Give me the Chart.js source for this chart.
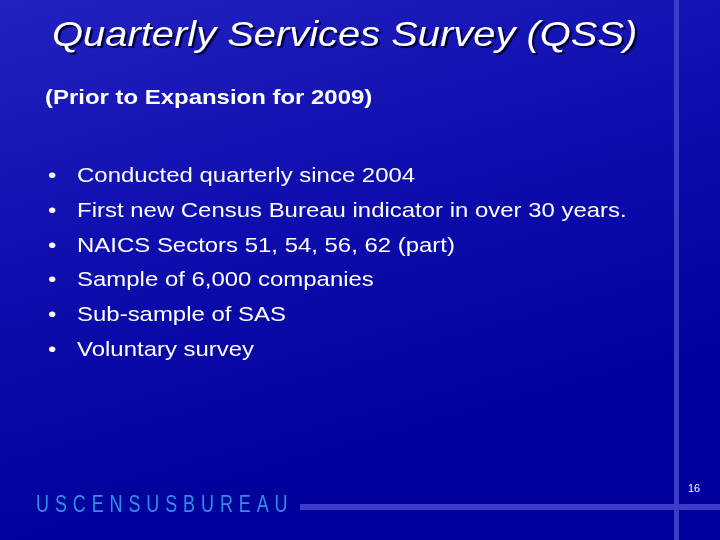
<!DOCTYPE html>
<html>
<head>
<meta charset="utf-8">
<script src="https://cdn.jsdelivr.net/npm/chart.js@4"></script>
<style>
  html, body { margin: 0; padding: 0; }
  body { width: 720px; height: 540px; position: relative; overflow: hidden; font-family: "Liberation Sans", Arial, sans-serif; color: #fff; }
  #slide { position: absolute; left: 0; top: 0; }
  .wide { transform: scaleX(1.14); transform-origin: left top; }
  .title { position: absolute; left: 52px; top: 14px; font-size: 35px; font-style: italic; text-shadow: 2px 2px 1px #000040; white-space: nowrap; }
  .sub { position: absolute; left: 45px; top: 85px; font-size: 21px; font-weight: bold; white-space: nowrap; }
  ul { position: absolute; left: 48px; top: 160px; margin: 0; padding: 0; list-style: none; font-size: 21px; white-space: nowrap; }
  li { height: 34.8px; line-height: 30px; }
  li span { display: inline-block; width: 25.5px; }
  .logo { position: absolute; left: 36px; top: 491px; font-family: "Liberation Sans", sans-serif; font-size: 23px; letter-spacing: 7.6px; color: #2f8fe8; transform: scaleX(0.78); transform-origin: left top; white-space: nowrap; }
  .page { position: absolute; left: 688px; top: 482px; font-size: 11px; }
</style>
</head>
<body>
<canvas id="slide" width="720" height="540"></canvas>
<div class="title wide" id="title"></div>
<div class="sub wide" id="sub"></div>
<ul id="bullets" class="wide"></ul>
<div class="logo" id="logo"></div>
<div class="page" id="page"></div>
<script>
// ========= Content =========
const titleText = "Quarterly Services Survey (QSS)";
const subtitleText = "(Prior to Expansion for 2009)";
const bullets = [
    "Conducted quarterly since 2004",
    "First new Census Bureau indicator in over 30 years.",
    "NAICS Sectors 51, 54, 56, 62 (part)",
    "Sample of 6,000 companies",
    "Sub-sample of SAS",
    "Voluntary survey",
];
const logoText = "USCENSUSBUREAU";
const pageNumber = "16";

document.getElementById("title").textContent = titleText;
document.getElementById("sub").textContent = subtitleText;
document.getElementById("logo").textContent = logoText;
document.getElementById("page").textContent = pageNumber;
const ul = document.getElementById("bullets");
bullets.forEach((b) => {
    const li = document.createElement("li");
    li.innerHTML = "<span>•</span>";
    li.appendChild(document.createTextNode(b));
    ul.appendChild(li);
});

// ========= Background (gradient + rules) =========
const backdrop = {
    id: "backdrop",
    beforeDraw(chart) {
        const ctx = chart.ctx;
        const g = ctx.createLinearGradient(0, 0, 150, 540);
        g.addColorStop(0, "#2222c0");
        g.addColorStop(0.5, "#0e0eae");
        g.addColorStop(1, "#00009a");
        ctx.save();
        ctx.fillStyle = g;
        ctx.fillRect(0, 0, 720, 540);
        ctx.fillStyle = "#3c3cc8";
        ctx.fillRect(674, 0, 5, 540);
        ctx.fillRect(300, 504, 420, 6);
        ctx.restore();
    },
};

new Chart(document.getElementById("slide"), {
    type: "scatter",
    data: { datasets: [] },
    options: {
        responsive: false,
        animation: false,
        plugins: { legend: { display: false }, tooltip: { enabled: false } },
        scales: { x: { display: false }, y: { display: false } },
    },
    plugins: [backdrop],
});
</script>
</body>
</html>
